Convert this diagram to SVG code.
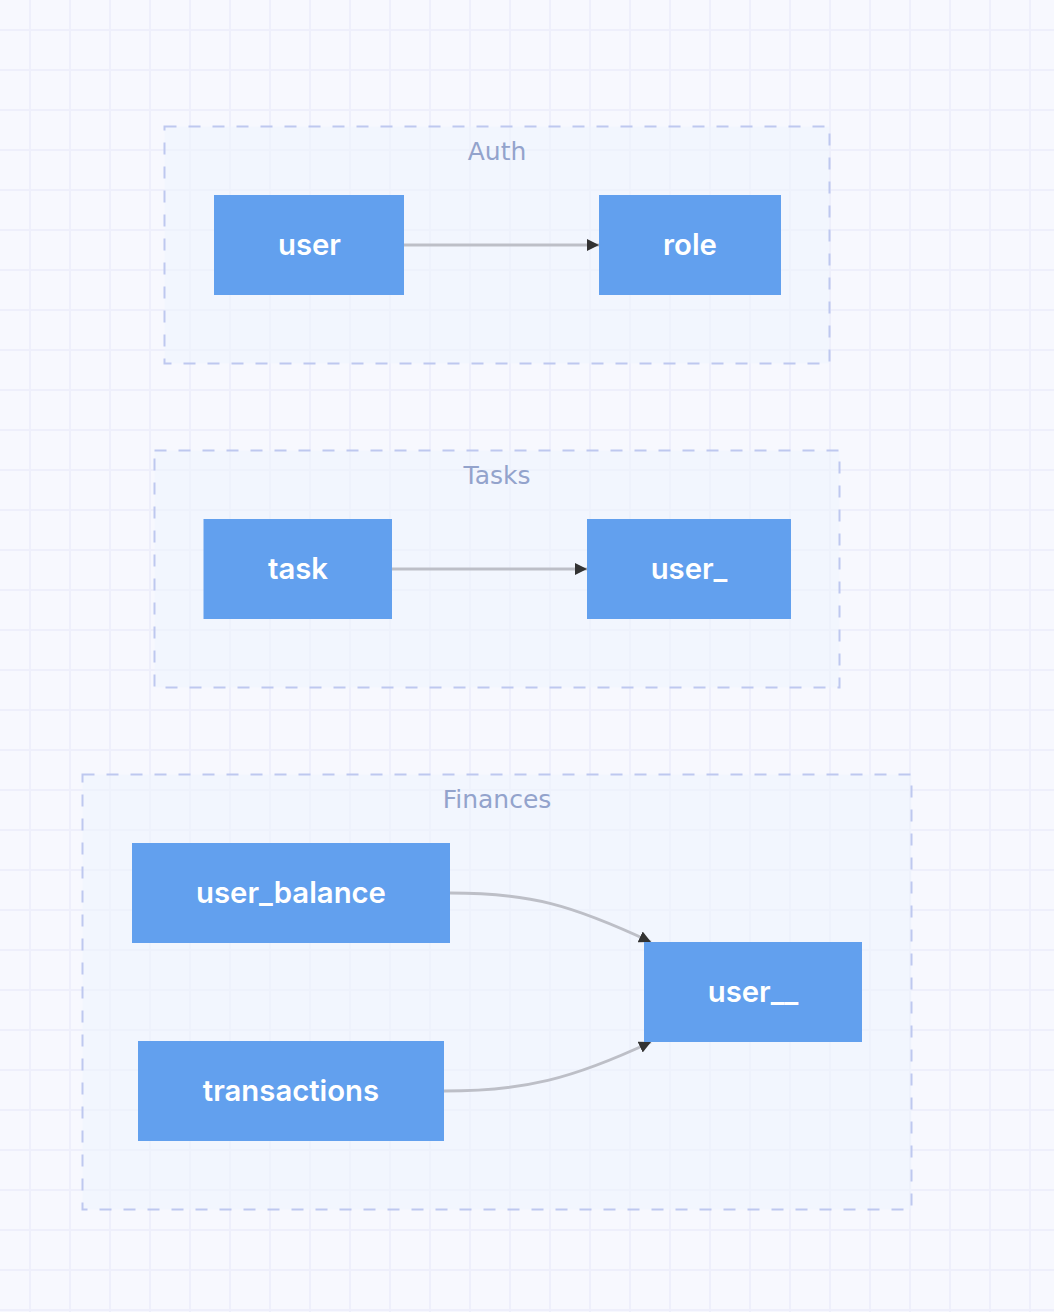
<svg xmlns="http://www.w3.org/2000/svg" width="1054" height="1312" viewBox="0 0 1054 1312">
<defs>
<pattern id="grid" x="0" y="0" width="40" height="40" patternUnits="userSpaceOnUse" patternTransform="translate(10 10)">
<rect width="40" height="40" fill="#f7f8fe"/>
<rect x="19" y="0" width="2" height="40" fill="#eeeffb"/>
<rect x="0" y="19" width="40" height="2" fill="#eeeffb"/>
</pattern>
<marker id="arrow" viewBox="0 0 12 12" refX="12" refY="6" markerWidth="12" markerHeight="12" markerUnits="userSpaceOnUse" orient="auto">
<path d="M0,0 L12,6 L0,12 z" fill="#333333"/>
</marker>
<style>
.cluster rect{fill:#eef4fe;fill-opacity:0.55;stroke:#bec8ef;stroke-width:2;stroke-dasharray:12 12}
.cluster text{font-family:"DejaVu Sans",sans-serif;font-size:25px;fill:#93a3cc;text-anchor:middle}
.node rect{fill:#62a0ee}
.node text{font-family:Inter,"Noto Sans",sans-serif;font-size:29.3px;font-weight:600;fill:#ffffff;text-anchor:middle;dominant-baseline:central}
.edges path{fill:none;stroke:#bdbfc7;stroke-width:3;marker-end:url(#arrow)}
</style>
</defs>
<rect width="1054" height="1312" fill="url(#grid)"/>
<g id="cluster-auth" class="cluster">
<rect x="164.5" y="126.5" width="665" height="237"/>
<text x="497" y="160">Auth</text>
</g>
<g id="cluster-tasks" class="cluster">
<rect x="154.5" y="450.5" width="685" height="237"/>
<text x="497" y="484">Tasks</text>
</g>
<g id="cluster-finances" class="cluster">
<rect x="82.5" y="774.5" width="829" height="435"/>
<text x="497" y="808">Finances</text>
</g>
<g class="edges" id="connectors">
<path d="M404,245 L599,245"/>
<path d="M392,569 L587,569"/>
<path d="M450,893 C530,893 572,905 651,942"/>
<path d="M444,1091 C524,1091 572,1079 651,1042"/>
</g>
<g id="node-user" class="node"><rect x="214" y="195" width="190" height="100"/><text x="309.5" y="244">user</text></g>
<g id="node-role" class="node"><rect x="599" y="195" width="182" height="100"/><text x="690" y="244">role</text></g>
<g id="node-task" class="node"><rect x="203.5" y="519" width="188.5" height="100"/><text x="298" y="568">task</text></g>
<g id="node-user_" class="node"><rect x="587" y="519" width="204" height="100"/><text x="689" y="568">user_</text></g>
<g id="node-user_balance" class="node"><rect x="132" y="843" width="318" height="100"/><text x="291" y="892">user_balance</text></g>
<g id="node-transactions" class="node"><rect x="138" y="1041" width="306" height="100"/><text x="291" y="1090">transactions</text></g>
<g id="node-user__" class="node"><rect x="644" y="942" width="218" height="100"/><text x="753" y="991">user__</text></g>
</svg>
